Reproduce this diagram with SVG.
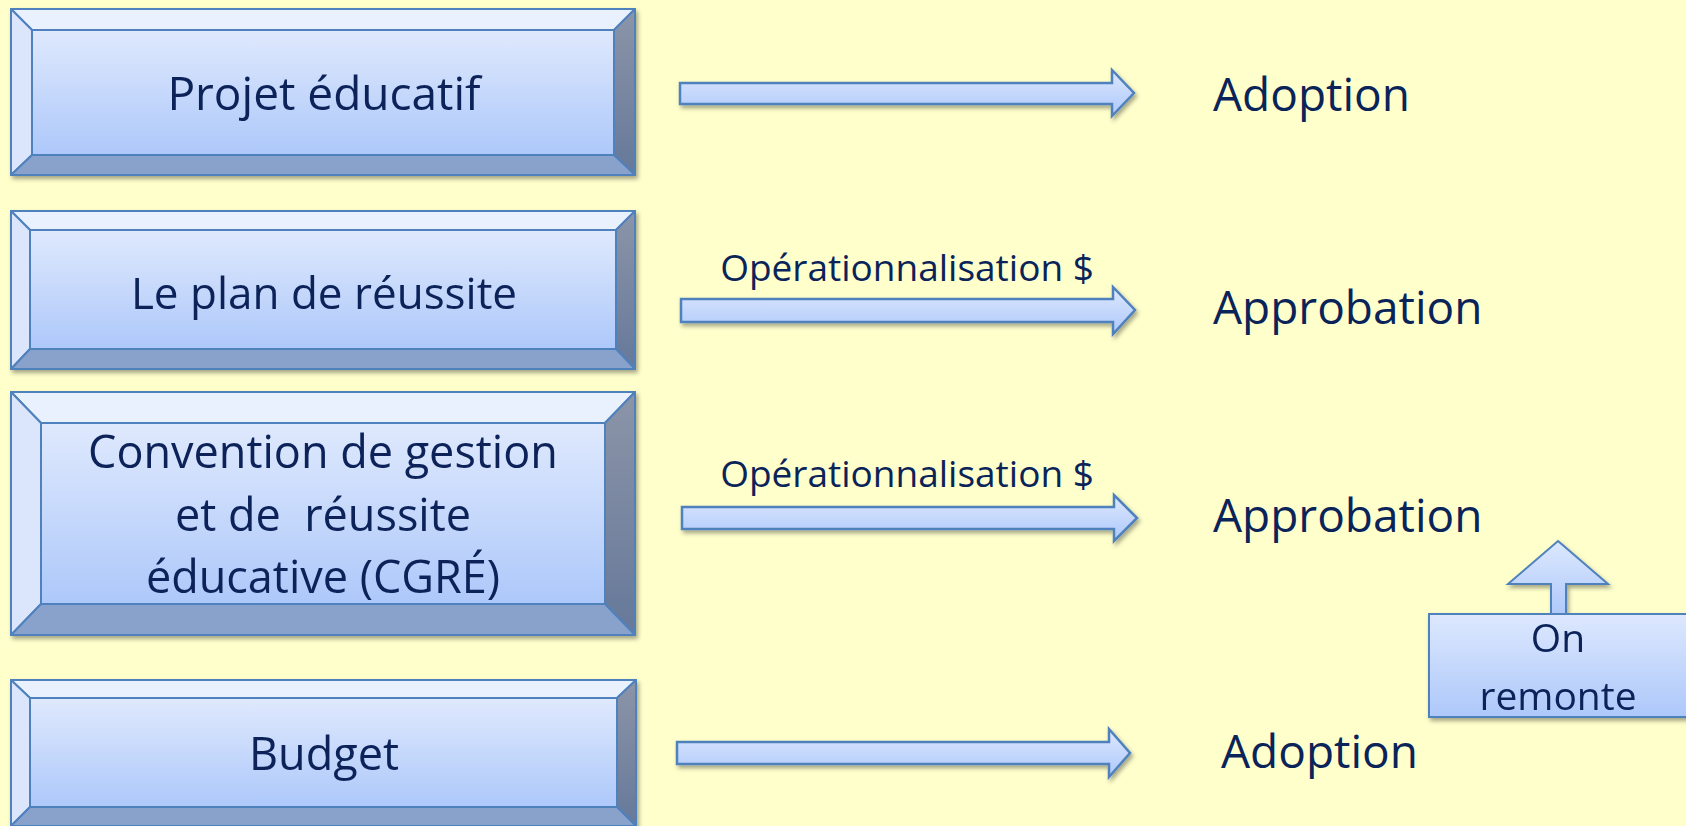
<svg xmlns="http://www.w3.org/2000/svg" width="1686" height="826" viewBox="0 0 1686 826">
<defs>
<linearGradient id="face" x1="0" y1="0" x2="0" y2="1">
<stop offset="0" stop-color="#dfe9fd"/><stop offset="1" stop-color="#adc8fa"/>
</linearGradient>
<linearGradient id="right" x1="0" y1="0" x2="0" y2="1">
<stop offset="0" stop-color="#8c95a8"/><stop offset="1" stop-color="#66789a"/>
</linearGradient>
<linearGradient id="arr" x1="0" y1="0" x2="0" y2="1">
<stop offset="0" stop-color="#dde8fe"/><stop offset="1" stop-color="#adc8fa"/>
</linearGradient>
<filter id="sh" x="-5%" y="-10%" width="110%" height="130%">
<feDropShadow dx="2" dy="3" stdDeviation="2" flood-color="#000" flood-opacity="0.35"/>
</filter>
</defs>
<style>
.ol{stroke:#4f81bd;stroke-width:2;stroke-linejoin:round}
.top{fill:#e9f0fe}
.left{fill:#dbe5fb}
.rt{fill:url(#right)}
.bot{fill:#89a2cc}
.face{fill:url(#face)}
.arrow{fill:url(#arr);stroke:#4f81bd;stroke-width:2.5;stroke-linejoin:miter}
text{font-family:"Open Sans","Liberation Sans",sans-serif;fill:#0a2359;text-anchor:middle;white-space:pre}
.bt{font-size:45px}
.rl{font-size:46px;text-anchor:start}
.op{font-size:37px}
.on{font-size:39px}
</style>
<rect width="1686" height="826" fill="#ffffcc"/>

<g id="node-projet" filter="url(#sh)">
<rect x="11" y="9" width="624" height="166" class="face"/>
<polygon class="top ol" points="11,9 635,9 614,30 32,30"/>
<polygon class="left ol" points="11,9 32,30 32,155 11,175"/>
<polygon class="rt ol" points="635,9 635,175 614,155 614,30"/>
<polygon class="bot ol" points="11,175 32,155 614,155 635,175"/>
<rect x="32" y="30" width="582" height="125" class="face ol"/>
<rect x="11" y="9" width="624" height="166" fill="none" class="ol"/>
<text class="bt" x="324" y="110" style="font-size:46px">Projet éducatif</text>
</g>

<g id="node-plan" filter="url(#sh)">
<rect x="11" y="211" width="624" height="158" class="face"/>
<polygon class="top ol" points="11,211 635,211 616,230 30,230"/>
<polygon class="left ol" points="11,211 30,230 30,349 11,369"/>
<polygon class="rt ol" points="635,211 635,369 616,349 616,230"/>
<polygon class="bot ol" points="11,369 30,349 616,349 635,369"/>
<rect x="30" y="230" width="586" height="119" class="face ol"/>
<rect x="11" y="211" width="624" height="158" fill="none" class="ol"/>
<text class="bt" x="324" y="309" style="font-size:44px">Le plan de réussite</text>
</g>

<g id="node-cgre" filter="url(#sh)">
<rect x="11" y="392" width="624" height="243" class="face"/>
<polygon class="top ol" points="11,392 635,392 605,423 41,423"/>
<polygon class="left ol" points="11,392 41,423 41,604 11,635"/>
<polygon class="rt ol" points="635,392 635,635 605,604 605,423"/>
<polygon class="bot ol" points="11,635 41,604 605,604 635,635"/>
<rect x="41" y="423" width="564" height="181" class="face ol"/>
<rect x="11" y="392" width="624" height="243" fill="none" class="ol"/>
<text class="bt" x="323" y="468">Convention de gestion</text>
<text class="bt" x="323" y="531">et de  réussite</text>
<text class="bt" x="323" y="593">éducative (CGRÉ)</text>
</g>

<g id="node-budget" filter="url(#sh)">
<rect x="11" y="680" width="625" height="146" class="face"/>
<polygon class="top ol" points="11,680 636,680 617,698 30,698"/>
<polygon class="left ol" points="11,680 30,698 30,807 11,826"/>
<polygon class="rt ol" points="636,680 636,826 617,807 617,698"/>
<polygon class="bot ol" points="11,826 30,807 617,807 636,826"/>
<rect x="30" y="698" width="587" height="109" class="face ol"/>
<rect x="11" y="680" width="625" height="146" fill="none" class="ol"/>
<text class="bt" x="324" y="770">Budget</text>
</g>

<g id="connectors" filter="url(#sh)">
<polygon class="arrow" points="680,83 1112,83 1112,70 1134,93 1112,116 1112,104 680,104"/>
<polygon class="arrow" points="681,299 1113,299 1113,287 1135,310 1113,334 1113,322 681,322"/>
<polygon class="arrow" points="682,507 1114,507 1114,495 1137,518 1114,541 1114,529 682,529"/>
<polygon class="arrow" points="677,742 1109,742 1109,729 1130,753 1109,777 1109,764 677,764"/>
</g>

<g id="labels">
<text class="op" x="907" y="281">Opérationnalisation $</text>
<text class="op" x="907" y="487">Opérationnalisation $</text>
</g>

<g id="node-adoption1"><text class="rl" x="1213" y="111">Adoption</text></g>
<g id="node-approbation1"><text class="rl" x="1213" y="324">Approbation</text></g>
<g id="node-approbation2"><text class="rl" x="1213" y="532">Approbation</text></g>
<g id="node-adoption2"><text class="rl" x="1221" y="768">Adoption</text></g>

<g id="node-onremonte" filter="url(#sh)">
<polygon class="arrow" style="stroke-width:2" points="1558,541 1608,584 1566,584 1566,616 1551,616 1551,584 1508,584"/>
<rect x="1429" y="614" width="265" height="103" class="arrow" style="stroke-width:2"/>
<text class="on" x="1558" y="652">On</text>
<text class="on" x="1558" y="710">remonte</text>
</g>
</svg>
